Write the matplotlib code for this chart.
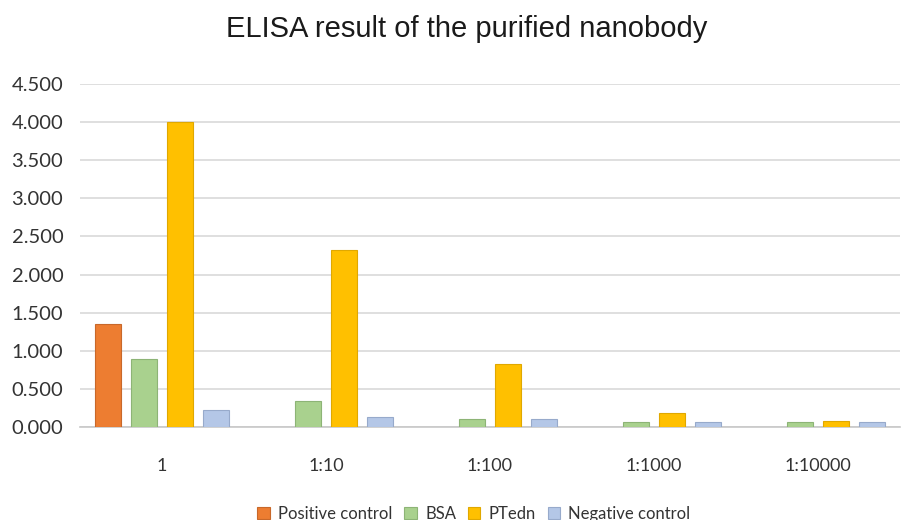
import numpy as np
import matplotlib.pyplot as plt

dilutions = ["1", "1:10", "1:100", "1:1000", "1:10000"]
positive_control = [1.35, 0.0, 0.0, 0.0, 0.0]
bsa = [0.89, 0.34, 0.10, 0.07, 0.07]
ptedn = [4.00, 2.32, 0.82, 0.18, 0.08]
negative_control = [0.22, 0.13, 0.10, 0.07, 0.07]

series = [
    ("Positive control", positive_control, "#ED7D31", "#C8682A"),
    ("BSA", bsa, "#A9D18E", "#8DB476"),
    ("PTedn", ptedn, "#FFC000", "#E0A800"),
    ("Negative control", negative_control, "#B4C7E7", "#97AACB"),
]

fig = plt.figure(figsize=(9.01, 5.20), dpi=100)
ax = fig.add_axes([80 / 901, 93 / 520, 820 / 901, 343 / 520])

x = np.arange(len(dilutions))
width = 0.162
step = 0.22
for i, (name, vals, color, edge) in enumerate(series):
    # empty bars get no outline so nothing shows on the baseline
    lw = [0.8 if v > 0 else 0 for v in vals]
    ax.bar(x + (i - 1.5) * step, vals, width, color=color, edgecolor=edge,
           linewidth=lw, label=name, zorder=3)

ax.set_xlim(-0.5, len(dilutions) - 0.5)
ax.set_ylim(0, 4.5)
yticks = np.arange(0, 4.51, 0.5)
ax.set_yticks(yticks)
ax.set_yticklabels([f"{v:.3f}" for v in yticks])
ax.set_xticks(x)
ax.set_xticklabels(dilutions)

for lbl in ax.get_yticklabels():
    lbl.set(family=["Lato", "DejaVu Sans"], size=14.5, color="#333333")
for lbl in ax.get_xticklabels():
    lbl.set(family=["Lato", "DejaVu Sans"], size=13, color="#333333")

ax.grid(axis="y", color="#D9D9D9", linewidth=1.2, zorder=0)
ax.tick_params(length=0)
ax.tick_params(axis="y", pad=12)
ax.tick_params(axis="x", pad=22)
for side in ["top", "right", "left"]:
    ax.spines[side].set_visible(False)
ax.spines["bottom"].set_color("#C8C8C8")
ax.spines["bottom"].set_linewidth(1.2)

fig.text(0.518, 0.945, "ELISA result of the purified nanobody",
         ha="center", va="center", fontsize=21,
         family=["Liberation Sans", "DejaVu Sans"], color="#1a1a1a")

fig.legend(loc="center", bbox_to_anchor=(0.526, 0.012), ncol=4, frameon=False,
           prop=dict(family=["Lato", "DejaVu Sans"], size=12),
           handlelength=0.75, handleheight=0.75, handletextpad=0.5,
           columnspacing=0.7, labelcolor="#333333")

fig.savefig("out.png", dpi=100)
